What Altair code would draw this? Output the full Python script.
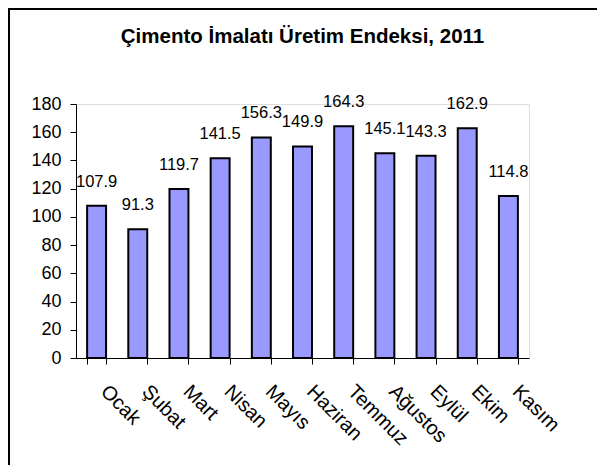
import altair as alt
import pandas as pd

months = ["Ocak", "Şubat", "Mart", "Nisan", "Mayıs", "Haziran", "Temmuz",
          "Ağustos", "Eylül", "Ekim", "Kasım"]
values = [107.9, 91.3, 119.7, 141.5, 156.3, 149.9, 164.3, 145.1, 143.3, 162.9, 114.8]
y_ticks = [0, 20, 40, 60, 80, 100, 120, 140, 160, 180]
title_text = "Çimento İmalatı Üretim Endeksi, 2011"

df = pd.DataFrame({"month": months, "value": values,
                   "label": [f"{v:.1f}" for v in values]})

W, H = 453, 254
FONT = "Liberation Sans"

x = alt.X("month:N", sort=months, title=None,
          scale=alt.Scale(paddingInner=0.54, paddingOuter=0.27),
          axis=alt.Axis(labelAngle=45, labelAlign="left", labelBaseline="top",
                        labelOffset=14, labelPadding=17, tickBand="extent",
                        tickSize=6, tickColor="#000", domainColor="#000",
                        labelFont=FONT, labelFontSize=20, labelColor="#000"))
y = alt.Y("value:Q", title=None,
          scale=alt.Scale(domain=[0, 180], nice=False),
          axis=alt.Axis(values=y_ticks, grid=False, tickSize=6, labelPadding=9,
                        tickColor="#000", domainColor="#000",
                        labelFont=FONT, labelFontSize=18, labelColor="#000"))

base = alt.Chart(df)
bars = base.mark_bar(color="#9999FF", stroke="#000", strokeWidth=2).encode(x=x, y=y)
texts = base.mark_text(font=FONT, fontSize=16.5, baseline="alphabetic", dy=-19,
                       color="#000").encode(x=x, y=y, text="label:N")

border_left = base.mark_rule(color="#000", strokeWidth=2).encode(
    x=alt.value(-67), y=alt.value(-96), y2=alt.value(H + 107))
border_top = base.mark_rule(color="#000", strokeWidth=2).encode(
    x=alt.value(-68), x2=alt.value(W + 68), y=alt.value(-95))

chart = alt.layer(bars, texts, border_left, border_top).properties(
    width=W, height=H,
    title=alt.TitleParams(title_text, font=FONT, fontSize=20.5, fontWeight="bold",
                          anchor="middle", frame="group", offset=0, dy=56,
                          baseline="alphabetic", color="#000"),
    autosize=alt.AutoSizeParams(type="none"),
    padding={"left": 68, "top": 96, "right": 68, "bottom": 107},
).configure_view(stroke=None).configure(background="white")

chart.save("out.html", embed_options={"renderer": "svg", "actions": False})
